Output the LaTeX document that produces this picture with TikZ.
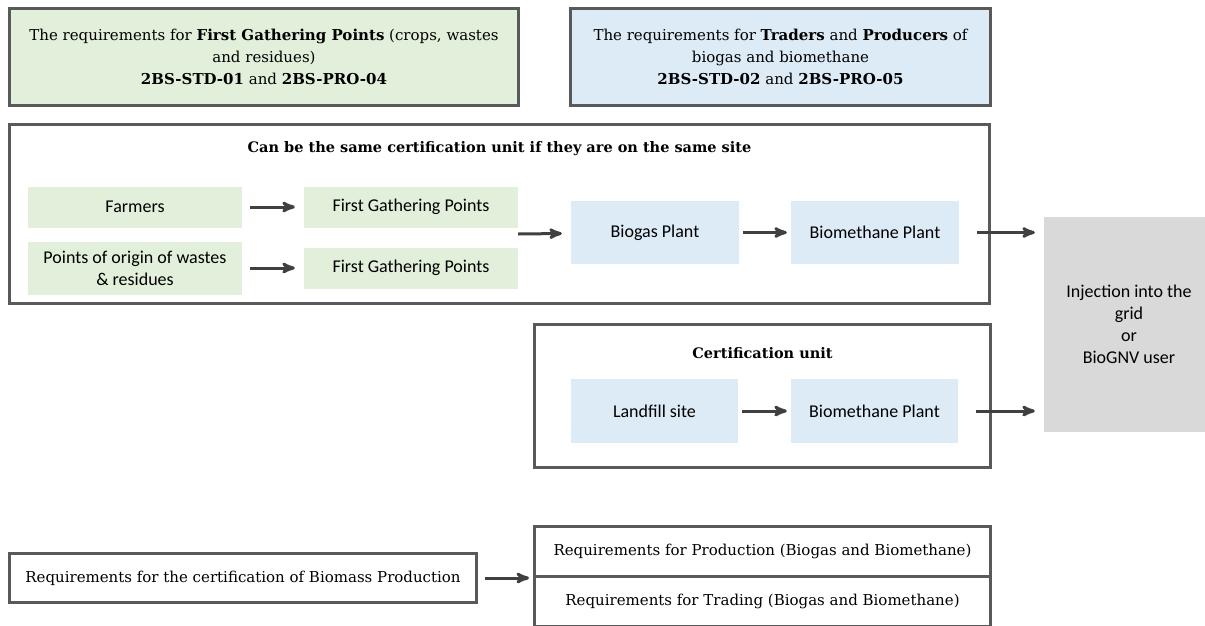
\documentclass[tikz,border=0pt]{standalone}
\usepackage{fontspec}
\setmainfont{DejaVu Serif}
\newfontfamily\calib{Carlito}
\usetikzlibrary{arrows}
\definecolor{boxgreen}{HTML}{E2EFDA}
\definecolor{boxblue}{HTML}{DDEBF7}
\definecolor{boxgray}{HTML}{D9D9D9}
\definecolor{frame}{HTML}{595959}
\definecolor{arrowgray}{HTML}{404040}
\tikzstyle{every picture}=[x=1pt, y=-1pt, >=stealth', node distance=220pt]
\tikzstyle{reqbox}=[draw=frame, line width=3pt, align=center, inner sep=0pt,%
	font=\fontsize{15}{22}\selectfont]
\tikzstyle{unitbox}=[draw=frame, line width=3pt, inner sep=0pt]
\tikzstyle{unittitle}=[font=\bfseries\fontsize{14.5}{22}\selectfont]
\tikzstyle{stage}=[inner sep=0pt, align=center, minimum height=41pt,%
	font=\calib\fontsize{18}{22}\selectfont]
\tikzstyle{flow}=[->, draw=arrowgray, line width=3pt]

\begin{document}
\begin{tikzpicture}
\useasboundingbox (0,0) rectangle (1205,625);
\node[reqbox, fill=boxgreen, minimum width=509pt, minimum height=97pt] (fgpreq) at (264,57)%
	{The requirements for \textbf{First Gathering Points} (crops, wastes\\%
	and residues)\\ \textbf{2BS-STD-01} and \textbf{2BS-PRO-04}};
\node[reqbox, fill=boxblue, minimum width=420pt, minimum height=97pt] (tpreq) at (780.5,57)%
	{The requirements for \textbf{Traders} and \textbf{Producers} of\\%
	biogas and biomethane\\ \textbf{2BS-STD-02} and \textbf{2BS-PRO-05}};

\node[unitbox, minimum width=980pt, minimum height=179pt] (samesite) at (499.5,214) {};
\node[unittitle] (sametitle) at (499.5,149)%
	{Can be the same certification unit if they are on the same site};
\node[stage, fill=boxgreen, minimum width=214pt] (farm) at (135,207) {Farmers};
\node[stage, fill=boxgreen, minimum width=214pt] (fgp1) [right of=farm, node distance=276pt]%
	{First Gathering Points};
\node[stage, fill=boxgreen, minimum width=214pt, minimum height=53pt] (orig) at (135,268)%
	{Points of origin of wastes\\ \& residues};
\node[stage, fill=boxgreen, minimum width=214pt] (fgp2) [right of=orig, node distance=276pt]%
	{First Gathering Points};
\coordinate (fgpout) at (518,234);
\node[stage, fill=boxblue, minimum width=168pt, minimum height=63pt] (bgp) at (655,232.5)%
	{Biogas Plant};
\node[stage, fill=boxblue, minimum width=168pt, minimum height=63pt] (bmp1) [right of=bgp]%
	{Biomethane Plant};

\node[unitbox, minimum width=456pt, minimum height=143pt] (certunit) at (762.5,396) {};
\node[unittitle] (certtitle) at (762.5,353) {Certification unit};
\node[stage, fill=boxblue, minimum width=167pt, minimum height=64pt] (land) at (654.5,411)%
	{Landfill site};
\node[stage, fill=boxblue, minimum width=167pt, minimum height=64pt] (bmp2) [right of=land]%
	{Biomethane Plant};

\node[stage, fill=boxgray, minimum width=170pt, minimum height=215pt] (grid) at (1129,324.5)%
	{Injection into the\\ grid\\ or\\ BioGNV user};

\node[reqbox, minimum width=467pt, minimum height=49pt] (biomass) at (243,578)%
	{Requirements for the certification of Biomass Production};
\node[reqbox, minimum width=456pt, minimum height=50pt] (prod) at (762.5,551.5)%
	{Requirements for Production (Biogas and Biomethane)};
\node[reqbox, minimum width=456pt, minimum height=50pt] (trade) [below of=prod, node distance=50pt]%
	{Requirements for Trading (Biogas and Biomethane)};

\path (farm) edge [flow, shorten <=8pt, shorten >=9pt] (fgp1);
\path (orig) edge [flow, shorten <=8pt, shorten >=9pt] (fgp2);
\path (fgpout) edge [flow, shorten >=9pt] (bgp);
\path (bgp) edge [flow, shorten <=4pt, shorten >=4pt] (bmp1);
\path (bmp1) edge [flow, shorten <=18pt, shorten >=9pt] (bmp1 -| grid.west);
\path (land) edge [flow, shorten <=4pt, shorten >=4pt] (bmp2);
\path (bmp2) edge [flow, shorten <=18pt, shorten >=9pt] (bmp2 -| grid.west);
\path (biomass) edge [flow, shorten <=7pt, shorten >=4pt] (prod.south west);
\end{tikzpicture}
\end{document}
